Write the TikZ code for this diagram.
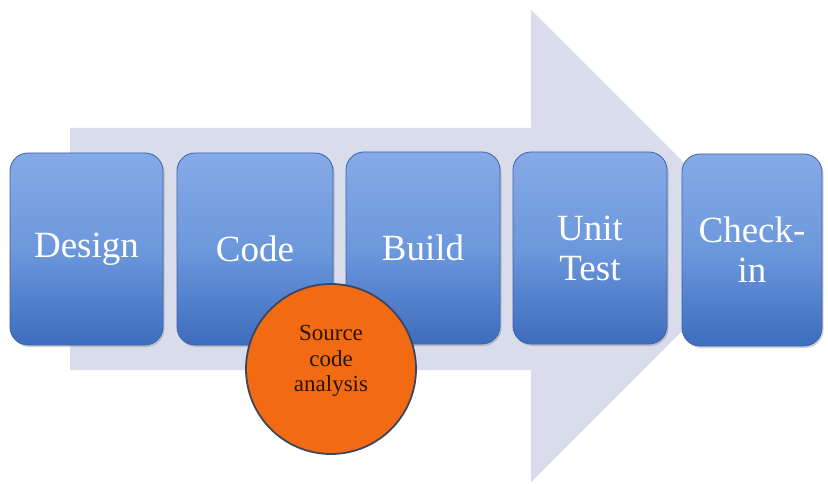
\documentclass[tikz,border=0pt]{standalone}
\usepackage{fontspec}
\setmainfont{Liberation Serif}
\usetikzlibrary{shadows}
\definecolor{arrowfill}{HTML}{D8DCEB}
\definecolor{boxtop}{HTML}{86AAE6}
\definecolor{boxmid}{HTML}{6C98DC}
\definecolor{boxbot}{HTML}{3E6CBE}
\definecolor{boxedge}{HTML}{3A64AE}
\definecolor{orangefill}{HTML}{F26A12}
\definecolor{orangeedge}{HTML}{3C4660}
\definecolor{circtext}{HTML}{2A1408}
\tikzset{
  stagebox/.style={rounded corners=18pt, draw=boxedge, line width=0.8pt,
    top color=boxtop, bottom color=boxbot, middle color=boxmid,
    text=white, font=\fontsize{37}{40}\selectfont, align=center,
    inner sep=0pt, minimum height=192pt,
    drop shadow={shadow xshift=1.5pt, shadow yshift=-2pt, opacity=0.35}},
  analysis/.style={circle, draw=orangeedge, line width=1.8pt,
    fill=orangefill, minimum size=170pt, inner sep=0pt},
  analysistext/.style={align=center, text=circtext, inner sep=0pt,
    font=\fontsize{23}{25.5}\selectfont}
}
\begin{document}
\begin{tikzpicture}[x=1pt,y=-1pt]
\useasboundingbox (0,0) rectangle (828,484);
\fill[white] (0,0) rectangle (828,484);
% big process arrow
\fill[arrowfill] (70,128) -- (531,128) -- (531,10) -- (767,246) -- (531,482) -- (531,370) -- (70,370) -- cycle;
% stage boxes
\node[stagebox, minimum width=153pt] (design) at (86.5,249) {Design};
\node[stagebox, minimum width=156pt] (code) at (255,249) {Code};
\node[stagebox, minimum width=154pt] (build) at (423,248) {Build};
\node[stagebox, minimum width=154pt] (unittest) at (590,248) {Unit\\Test};
\node[stagebox, minimum width=140pt] (checkin) at (752,250) {Check-\\in};
% analysis circle
\node[analysis] (sca) at (331,369) {};
\node[analysistext] (scatext) at (331,361) {Source\\code\\analysis};
\end{tikzpicture}
\end{document}
